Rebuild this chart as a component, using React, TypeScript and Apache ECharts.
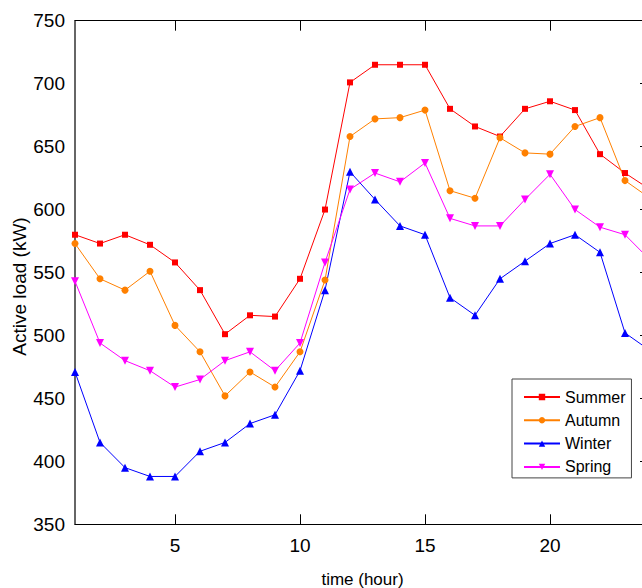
import React, { useEffect, useRef } from "react";
import * as echarts from "echarts";

const hours = [1, 2, 3, 4, 5, 6, 7, 8, 9, 10, 11, 12, 13, 14, 15, 16, 17, 18, 19, 20, 21, 22, 23, 24];
const summer = [580, 573, 580, 572, 558, 536, 501, 516, 515, 545, 600, 701, 715, 715, 715, 680, 666, 658, 680, 686, 679, 644, 629, 616];
const autumn = [573, 545, 536, 551, 508, 487, 452, 471, 459, 487, 544, 658, 672, 673, 679, 615, 609, 657, 645, 644, 666, 673, 623, 609];
const winter = [471, 415, 395, 388, 388, 408, 415, 430, 437, 472, 536, 630, 608, 587, 580, 530, 516, 545, 559, 573, 580, 566, 502, 488];
const spring = [543, 494, 480, 472, 459, 465, 480, 487, 472, 494, 558, 616, 629, 622, 637, 593, 587, 587, 608, 628, 600, 586, 580, 560];
const seriesNames = ["Summer", "Autumn", "Winter", "Spring"];
const xTicks = [5, 10, 15, 20];
const xTitle = "time (hour)";
const yTitle = "Active load (kW)";

const FONT = "'Liberation Sans', Arial, sans-serif";

export default function App() {
  const ref = useRef<HTMLDivElement>(null);
  useEffect(() => {
    if (!ref.current) return;
    const chart = echarts.init(ref.current, undefined, { renderer: "svg" });
    const pairs = (arr: number[]) => hours.map((h, i) => [h, arr[i]]);
    const mk = (name: string, data: number[], color: string, symbol: string, size: number, rotate = 0) => ({
      name,
      type: "line",
      data: pairs(data),
      symbol,
      symbolSize: size,
      symbolRotate: rotate,
      showAllSymbol: true,
      lineStyle: { color, width: 1 },
      itemStyle: { color },
      clip: true,
    });
    chart.setOption({
      animation: false,
      backgroundColor: "#ffffff",
      textStyle: { fontFamily: FONT },
      grid: { left: 75, right: 10, top: 20.7, bottom: 63.7, containLabel: false },
      xAxis: [
        {
          type: "value",
          min: 1,
          max: 24,
          position: "bottom",
          axisLine: { show: true, lineStyle: { color: "#000", width: 1 } },
          axisTick: { show: true, inside: true, length: 10, customValues: xTicks, lineStyle: { color: "#000" } },
          axisLabel: {
            show: true,
            fontSize: 19,
            color: "#000",
            fontFamily: FONT,
            margin: 12,
            customValues: xTicks,
          },
          splitLine: { show: false },
        },
        {
          type: "value",
          min: 1,
          max: 24,
          position: "top",
          axisLine: { show: true, lineStyle: { color: "#000", width: 1 } },
          axisTick: { show: true, inside: true, length: 10, customValues: xTicks, lineStyle: { color: "#000" } },
          axisLabel: { show: false },
          splitLine: { show: false },
        },
      ],
      yAxis: [
        {
          type: "value",
          min: 350,
          max: 750,
          interval: 50,
          position: "left",
          axisLine: { show: true, lineStyle: { color: "#333", width: 1.5 } },
          axisTick: { show: false },
          axisLabel: { fontSize: 19, color: "#000", fontFamily: FONT, margin: 10 },
          splitLine: { show: false },
        },
        {
          type: "value",
          min: 350,
          max: 750,
          interval: 50,
          position: "right",
          axisLine: { show: true, lineStyle: { color: "#000", width: 1 } },
          axisTick: { show: true, inside: true, length: 10, lineStyle: { color: "#000" } },
          axisLabel: { show: false },
          splitLine: { show: false },
        },
      ],
      legend: {
        orient: "vertical",
        left: 512,
        top: 379,
        data: seriesNames,
        itemWidth: 36,
        itemHeight: 8,
        itemGap: 3.3,
        padding: [8, 6, 1, 11],
        borderColor: "#444",
        borderWidth: 1,
        backgroundColor: "#fff",
        textStyle: { fontSize: 16, color: "#000", fontFamily: FONT, lineHeight: 20 },
      },
      graphic: [
        {
          type: "text",
          x: 19,
          y: 286.5,
          rotation: Math.PI / 2,
          style: {
            text: yTitle,
            fontSize: 19,
            fontFamily: FONT,
            fill: "#000",
            align: "center",
            verticalAlign: "middle",
          },
        },
        {
          type: "text",
          x: 362.5,
          y: 579,
          style: {
            text: xTitle,
            fontSize: 17,
            fontFamily: FONT,
            fill: "#000",
            align: "center",
            verticalAlign: "middle",
          },
        },
      ],
      series: [
        mk(seriesNames[0], summer, "#ff0000", "rect", 6),
        mk(seriesNames[1], autumn, "#ff8000", "circle", 7),
        mk(seriesNames[2], winter, "#0000ff", "triangle", 8),
        mk(seriesNames[3], spring, "#ff00ff", "triangle", 8, 180),
      ],
    });
    return () => chart.dispose();
  }, []);
  return (
    <div style={{ position: "fixed", left: 0, top: 0, width: 642, height: 588, overflow: "hidden", background: "#fff" }}>
      <div ref={ref} style={{ width: 660, height: 588 }} />
    </div>
  );
}
